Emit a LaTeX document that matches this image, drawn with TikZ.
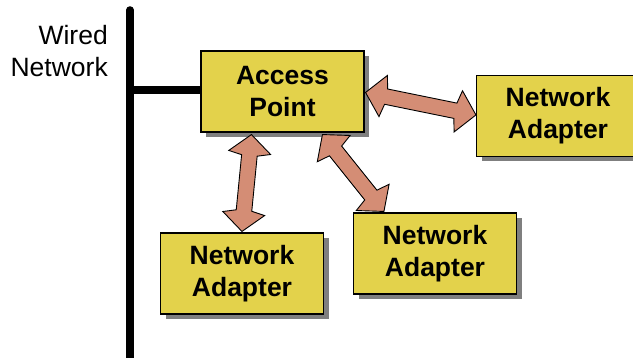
\documentclass[tikz,border=0pt]{standalone}
\usepackage{fontspec}
\setmainfont{Liberation Sans}
\usetikzlibrary{calc,shadows}
\definecolor{boxyellow}{HTML}{E3D24B}
\definecolor{arrowfill}{HTML}{D48D75}
\definecolor{shadowgray}{HTML}{7F7F7F}
\tikzset{
  devbox/.style={draw=black, line width=1.1pt, fill=boxyellow,
    minimum width=163pt, minimum height=81pt, inner sep=0pt,
    align=center, font=\fontsize{26.5}{32}\selectfont\bfseries,
    general shadow={fill=shadowgray, shadow xshift=5pt, shadow yshift=-5pt}},
  wire/.style={line width=7.5pt, black},
  fatarr/.style={fill=arrowfill, draw=black, line width=0.9pt, line join=miter}
}
\newcommand\fatarrow[2]{%
  \path coordinate (fa-p) at ($(#1)!18pt!(#2)$)
        coordinate (fa-pp) at ($(#1)!21pt!(#2)$)
        coordinate (fa-q) at ($(#2)!18pt!(#1)$)
        coordinate (fa-qq) at ($(#2)!21pt!(#1)$);
  \draw[fatarr] (#1) -- ($(fa-p)!21pt!90:(#2)$) -- ($(fa-pp)!7.8pt!90:(#2)$)
    -- ($(fa-qq)!7.8pt!-90:(#1)$) -- ($(fa-q)!21pt!-90:(#1)$) -- (#2)
    -- ($(fa-q)!21pt!90:(#1)$) -- ($(fa-qq)!7.8pt!90:(#1)$)
    -- ($(fa-pp)!7.8pt!-90:(#2)$) -- ($(fa-p)!21pt!-90:(#2)$) -- cycle;}
\begin{document}
\begin{tikzpicture}[x=1pt,y=-1pt]
\useasboundingbox (0,0) rectangle (633,358);
\clip (0,0) rectangle (633,358);
% wired network
\coordinate (wtop) at (130,10);
\coordinate (wbot) at (130,362);
\draw[wire, line cap=round] (wtop) -- (130,300);
\draw[wire] (130,300) -- (wbot);
\node[anchor=east, align=right, font=\fontsize{26.5}{32}\selectfont, inner sep=0pt] (wlabel) at (108,51) {Wired\\Network};
% boxes
\node[devbox] (ap) at (282.5,91.5) {Access\\Point};
\node[devbox] (na1) at (558,116) {Network\\Adapter};
\node[devbox] (na2) at (242,273.5) {Network\\Adapter};
\node[devbox] (na3) at (435,253.5) {Network\\Adapter};
% wire to access point
\draw[wire] (ap.west |- 0,90) -- (wtop |- 0,90);
% arrows
\coordinate (a1s) at ($(ap.south west)+(51,2)$);
\coordinate (a1e) at ($(na2.north west)+(82,-1)$);
\coordinate (a2s) at ($(ap.south west)+(122,2)$);
\coordinate (a2e) at ($(na3.north west)+(31,-1)$);
\coordinate (a3s) at ($(ap.north east)+(1,42)$);
\coordinate (a3e) at ($(na1.north west)+(0,40)$);
\fatarrow{a1s}{a1e}
\fatarrow{a2s}{a2e}
\fatarrow{a3s}{a3e}
\end{tikzpicture}
\end{document}
